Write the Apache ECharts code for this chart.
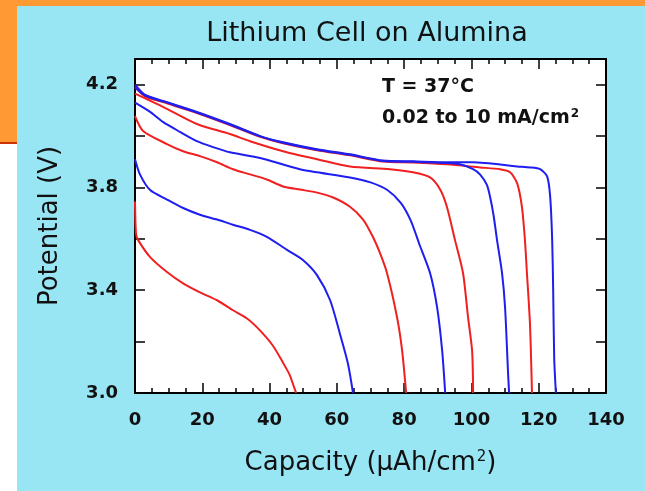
<!DOCTYPE html>
<html>
<head>
<meta charset="utf-8">
<script src="https://cdn.jsdelivr.net/npm/echarts@6/dist/echarts.min.js"></script>
<style>
  html, body { margin: 0; padding: 0; background: #fff; }
  #chart { width: 645px; height: 491px; }
</style>
</head>
<body>
<div id="chart"></div>
<script>
    // axis ranges and labels
    var xMin = 0, xMax = 140, xStep = 20;
    var yMin = 3.0, yMax = 4.3, yStep = 0.2;
    var yLabels = ['3.0', '3.4', '3.8', '4.2'];

    // discharge curves [capacity uAh/cm2, potential V], lowest current first
    var curve1 = [[0, 4.20], [3, 4.16], [8.3, 4.137], [18.4, 4.094], [28.2, 4.047], [37.2, 4.0], [44, 3.976], [54.1, 3.949],
        [63.9, 3.929], [73.7, 3.905], [82.6, 3.902], [92.7, 3.898], [100.5, 3.898], [113.6, 3.882], [117.4, 3.878],
        [120.4, 3.871], [122.5, 3.843], [123.4, 3.765], [124, 3.596], [124.3, 3.4], [124.6, 3.137], [125.1, 3.0]];
    var curve2 = [[0, 4.19], [3, 4.155], [8.3, 4.132], [18.4, 4.09], [28.2, 4.043], [37.2, 3.997], [44, 3.972], [54.1, 3.945],
        [63.9, 3.925], [73.7, 3.901], [82.6, 3.897], [92.7, 3.89], [102.6, 3.878], [108.5, 3.871], [111.5, 3.859],
        [113.6, 3.816], [115, 3.725], [115.9, 3.596], [116.5, 3.467], [117.4, 3.27], [118, 3.0]];
    var curve3 = [[0, 4.19], [3, 4.158], [8.3, 4.135], [18.4, 4.092], [28.2, 4.045], [37.2, 3.999], [44, 3.974], [54.1, 3.947],
        [63.9, 3.927], [73.7, 3.903], [82.6, 3.9], [92.7, 3.895], [96.6, 3.89], [100.5, 3.871], [102.6, 3.85],
        [104.6, 3.81], [105.6, 3.76], [106.6, 3.69], [107.6, 3.596], [109.1, 3.467], [110, 3.333], [110.9, 3.075], [111.2, 3.0]];
    var curve4 = [[0, 4.165], [8.3, 4.114], [18.4, 4.047], [28.2, 4.008], [34.2, 3.98], [44, 3.941], [54.1, 3.91],
        [63.9, 3.882], [75.8, 3.871], [82.6, 3.859], [87.7, 3.839], [90.7, 3.792], [92.7, 3.725], [95.1, 3.596],
        [97.5, 3.467], [99, 3.294], [100.2, 3.165], [100.5, 3.0]];
    var curve5 = [[0, 4.13], [4.5, 4.094], [8.3, 4.055], [13.4, 4.016], [18.4, 3.98], [23.2, 3.957], [28.2, 3.937],
        [37.2, 3.915], [49, 3.871], [63.9, 3.839], [70, 3.82], [75, 3.79], [79, 3.74], [82, 3.67], [84.5, 3.58],
        [87.7, 3.467], [89.8, 3.333], [91.3, 3.165], [92.2, 3.0]];
    var curve6 = [[0, 4.078], [2.4, 4.02], [9.5, 3.969], [14.3, 3.941], [19.3, 3.922], [24.4, 3.898], [29.1, 3.871],
        [34.2, 3.851], [39.2, 3.831], [44, 3.804], [49, 3.792], [54.1, 3.78], [58.9, 3.761], [63.9, 3.725],
        [67.8, 3.675], [70.7, 3.608], [72.8, 3.545], [74.9, 3.467], [77.9, 3.294], [79.4, 3.165], [80.6, 3.0]];
    var curve7 = [[0, 3.91], [1.5, 3.85], [4.5, 3.79], [9.5, 3.753], [14.3, 3.72], [19.3, 3.694], [24.4, 3.675],
        [29.1, 3.655], [34.2, 3.635], [39.2, 3.608], [45.2, 3.557], [49.9, 3.518], [54.1, 3.459], [58, 3.361],
        [60.9, 3.231], [63.3, 3.114], [64.8, 3.0]];
    var curve8 = [[0, 3.745], [0.3, 3.62], [0.9, 3.596], [4.5, 3.529], [9.5, 3.471], [14.3, 3.427], [19.3, 3.392],
        [24.4, 3.361], [29.1, 3.322], [33.3, 3.29], [37.2, 3.243], [41, 3.184], [44, 3.118], [46.1, 3.067], [47.9, 3.0]];

    var curves = [curve1, curve2, curve3, curve4, curve5, curve6, curve7, curve8];
    var curveColors = ['#1e1ef0', '#f02020', '#1e1ef0', '#f02020', '#1e1ef0', '#f02020', '#1e1ef0', '#f02020'];

    var fontFam = 'DejaVu Sans';
    var tickLabel = { fontFamily: fontFam, fontWeight: 'bold', fontSize: 18, color: '#111' };

    function baseX(pos, showLabel) {
        return {
            type: 'value', position: pos, min: xMin, max: xMax, interval: xStep,
            axisLine: { show: true, onZero: false, lineStyle: { color: '#000', width: 2 } },
            axisTick: { show: true, inside: true, length: 10, lineStyle: { color: '#000', width: 1.5 } },
            minorTick: { show: true, splitNumber: 4, length: 5, lineStyle: { color: '#000', width: 1.5 } },
            splitLine: { show: false },
            axisLabel: Object.assign({ show: showLabel, margin: 18 }, tickLabel)
        };
    }
    function baseY(pos, showLabel) {
        return {
            type: 'value', position: pos, min: yMin, max: yMax, interval: yStep,
            axisLine: { show: true, onZero: false, lineStyle: { color: '#000', width: 2 } },
            axisTick: { show: true, inside: true, length: 10, lineStyle: { color: '#000', width: 1.5 } },
            splitLine: { show: false },
            axisLabel: Object.assign({
                show: showLabel, margin: 17, showMaxLabel: false,
                formatter: function (v) {
                    var s = v.toFixed(1);
                    return yLabels.indexOf(s) >= 0 ? s : '';
                }
            }, tickLabel)
        };
    }

    var xBottom = baseX('bottom', true);
    xBottom.name = 'Capacity ({mu|µ}Ah/cm{sup|2})';
    xBottom.nameLocation = 'middle';
    xBottom.nameGap = 57;
    xBottom.nameTextStyle = {
        fontFamily: fontFam, fontSize: 26, color: '#111',
        rich: {
            mu: { fontFamily: fontFam, fontSize: 26, color: '#111' },
            sup: { fontFamily: fontFam, fontSize: 15, color: '#111', verticalAlign: 'top', padding: [0, 0, 10, 1] }
        }
    };
    var yLeft = baseY('left', true);
    yLeft.name = 'Potential (V)';
    yLeft.nameLocation = 'middle';
    yLeft.nameGap = 72;
    yLeft.nameTextStyle = { fontFamily: fontFam, fontSize: 26, color: '#111' };

    var option = {
        backgroundColor: '#98e6f4',
        animation: false,
        title: {
            text: 'Lithium Cell on Alumina',
            left: 362, top: 15, textAlign: 'center',
            textStyle: { fontFamily: fontFam, fontSize: 27, fontWeight: 'normal', color: '#111' }
        },
        grid: {
            left: 135, top: 59, width: 471, height: 334,
            show: true, backgroundColor: '#fff', borderWidth: 0
        },
        xAxis: [xBottom, baseX('top', false)],
        yAxis: [yLeft, baseY('right', false)],
        graphic: [
            { type: 'rect', shape: { x: 0, y: 0, width: 645, height: 6 }, style: { fill: '#ff9933' } },
            { type: 'rect', shape: { x: 0, y: 0, width: 17, height: 142 }, style: { fill: '#ff9933' } },
            { type: 'rect', shape: { x: 0, y: 142, width: 17, height: 2 }, style: { fill: '#cc3300' } },
            { type: 'rect', shape: { x: 0, y: 144, width: 17, height: 347 }, style: { fill: '#ffffff' } },
            {
                type: 'text', x: 382, y: 87,
                style: { text: 'T = 37°C', font: 'bold 19px "DejaVu Sans"', fill: '#111', verticalAlign: 'middle' }
            },
            {
                type: 'text', x: 382, y: 118,
                style: {
                    text: '0.02 to 10 mA/cm{sup|2}', font: 'bold 19px "DejaVu Sans"', fill: '#111', verticalAlign: 'middle',
                    rich: { sup: { font: 'bold 12px "DejaVu Sans"', fill: '#111', verticalAlign: 'top', padding: [0, 0, 8, 1] } }
                }
            }
        ],
        series: []
    };

    for (var i = 0; i < curves.length; i++) {
        option.series.push({
            name: 'curve' + (i + 1),
            type: 'line',
            xAxisIndex: 0,
            yAxisIndex: 0,
            showSymbol: false,
            smooth: 0.25,
            lineStyle: { color: curveColors[i], width: 2 },
            data: curves[i]
        });
    }

    var mychart = echarts.init(document.getElementById('chart'));
    mychart.setOption(option);
</script>
</body>
</html>
